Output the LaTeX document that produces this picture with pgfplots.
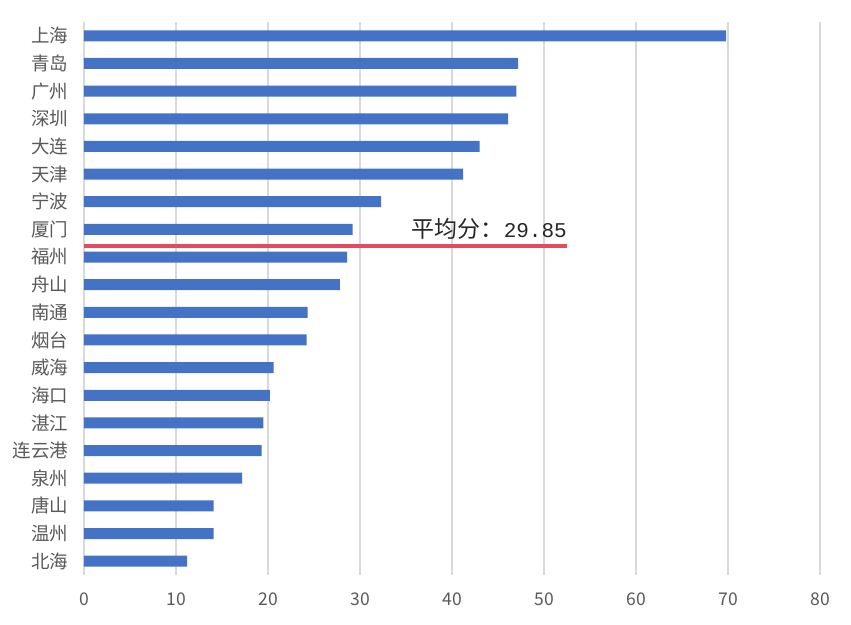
\documentclass[border=0pt]{standalone}
\usepackage{fontspec}
\setmainfont{Noto Sans CJK SC}
\newfontfamily\mononum{Liberation Mono}
\usepackage{pgfplots}
\pgfplotsset{compat=1.18}

\definecolor{barblue}{RGB}{68,114,196}
\definecolor{avgred}{RGB}{228,74,96}
\definecolor{gridgray}{RGB}{217,217,217}
\definecolor{labelgray}{RGB}{89,89,89}

\begin{document}
\begin{tikzpicture}
\useasboundingbox (0,0) rectangle (851pt,624pt);
\begin{axis}[
  at={(84pt,49pt)}, anchor=south west,
  scale only axis, width=736pt, height=553pt,
  bar width=11pt,
  xmin=0, xmax=80, ymin=-0.5, ymax=19.5,
  xtick={0,10,...,80},
  ytick={0,...,19},
  yticklabels={北海,温州,唐山,泉州,连云港,湛江,海口,威海,烟台,南通,舟山,福州,厦门,宁波,天津,大连,深圳,广州,青岛,上海},
  xmajorgrids,
  major grid style={draw=gridgray, line width=1.3pt},
  axis line style={draw=none},
  major tick length=0pt,
  tick label style={text=labelgray},
  yticklabel style={font=\fontsize{18.5}{18.5}\selectfont, xshift=-12pt},
  xticklabel style={font=\fontsize{17.5}{17.5}\selectfont, yshift=-14pt},
  /pgf/number format/assume math mode=true,
]
\addplot[xbar, fill=barblue, draw=none] coordinates {
  (69.8,19) (47.2,18) (47.0,17) (46.1,16) (43.0,15) (41.2,14) (32.3,13)
  (29.2,12) (28.6,11) (27.8,10) (24.3,9) (24.2,8) (20.6,7) (20.2,6)
  (19.5,5) (19.3,4) (17.2,3) (14.1,2) (14.1,1) (11.2,0)
};
\addplot[draw=avgred, line width=4pt] coordinates {(0,11.4) (52.5,11.4)};
\node[anchor=base east, inner sep=0pt, font=\fontsize{23}{23}\selectfont, text=black!85]
  at (axis cs:52.5,11.4) [yshift=8pt] {平均分：{\mononum\fontsize{21}{21}\selectfont 29.85}};
\end{axis}
\end{tikzpicture}
\end{document}
